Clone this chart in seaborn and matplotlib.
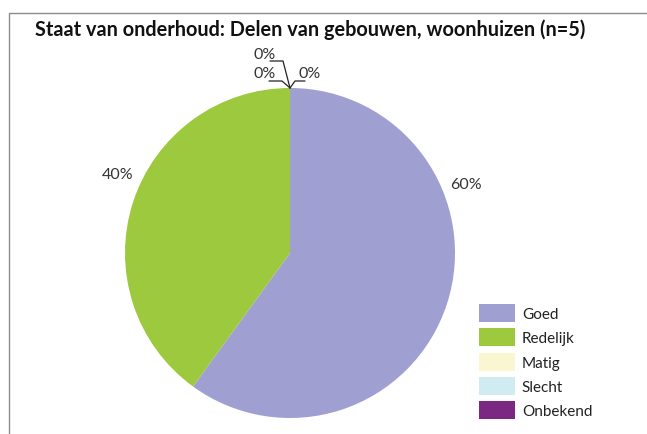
import matplotlib
matplotlib.use("Agg")
import matplotlib.pyplot as plt
import seaborn as sns
import numpy as np
from matplotlib.patches import Rectangle, Patch

categories = ["Goed", "Redelijk", "Matig", "Slecht", "Onbekend"]
values = [60, 40, 0, 0, 0]
colors = ["#A09FD2", "#9DC93F", "#FAF6D2", "#D0EBF2", "#7B2882"]
title = "Staat van onderhoud: Delen van gebouwen, woonhuizen (n=5)"

sns.set_theme(style="white")
plt.rcParams["font.family"] = ["Lato", "DejaVu Sans"]

W, H = 647, 435
fig = plt.figure(figsize=(W / 100, H / 100), dpi=100)
ax = fig.add_axes([0, 0, 1, 1])

cx, cy, r = 290, H - 254, 165
wedges, _ = ax.pie(values, colors=colors, startangle=90, counterclock=False,
                   center=(cx, cy), radius=r, frame=False,
                   wedgeprops=dict(linewidth=0))
ax.set_xlim(0, W)
ax.set_ylim(0, H)
ax.set_aspect("equal")
ax.axis("off")

# frame border
fig.patches.append(Rectangle((9 / W, -0.1), 1.2, (H - 14) / H + 0.1,
                             transform=fig.transFigure, fill=False,
                             edgecolor="#8c8c8c", linewidth=1))

fig.text(35 / W, 1 - 30 / H, title, fontsize=14.3, fontweight="bold",
         va="center", ha="left", color="#111111")

lab_kw = dict(fontsize=11.5, color="#333333", va="center")
# large slices labels
label_pos = {0: (450, 185, "left"), 1: (133, 175, "right")}
for i, (lx, ly, ha) in label_pos.items():
    ax.text(lx, H - ly, f"{values[i]}%", ha=ha, **lab_kw)

# zero slices with leader lines
top = (cx, cy + r)
zero_layout = {2: [(283, 62), (270, 62), (265, 55)],
               3: [(282, 82), (269, 82), (265, 74)],
               4: [(295, 82), (305, 82), (310, 74)]}
for i, pts in zero_layout.items():
    (x1, y1), (x2, y2), (tx, ty) = pts
    ax.plot([top[0], x1, x2], [top[1], H - y1, H - y2], color="#222222", lw=0.9)
    ax.text(tx, H - ty, f"{values[i]}%", ha="center", **lab_kw)

handles = [Patch(facecolor=c, edgecolor="none") for c in colors]
leg = ax.legend(handles, categories, loc="upper left",
                bbox_to_anchor=(479 / W, 1 - 305 / H), frameon=False,
                borderpad=0, borderaxespad=0,
                fontsize=11, handlelength=2.35, handleheight=1.45,
                labelspacing=0.4, handletextpad=0.46)
for t in leg.get_texts():
    t.set_color("#222222")

fig.savefig("out.png", dpi=100)
